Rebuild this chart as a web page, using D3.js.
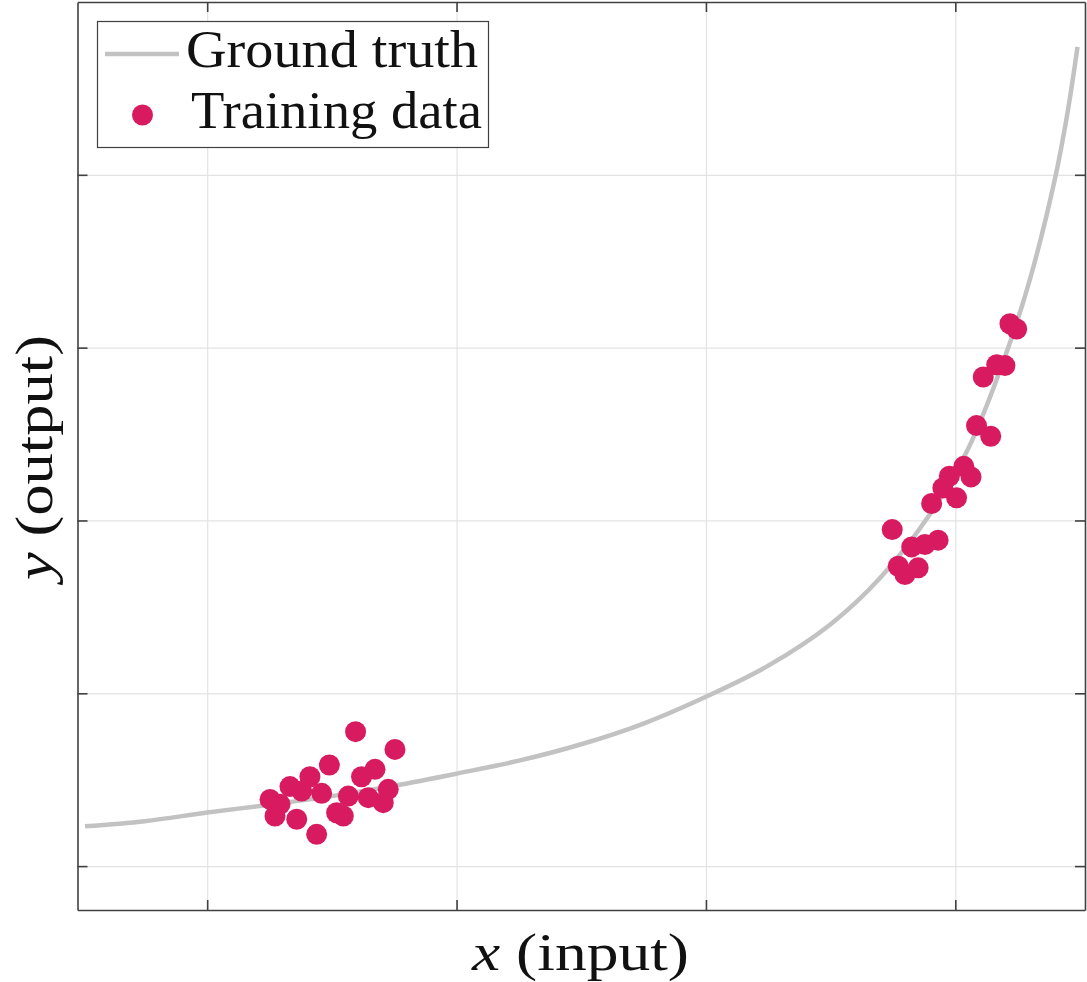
<!DOCTYPE html>
<html>
<head>
<meta charset="utf-8">
<script src="https://cdn.jsdelivr.net/npm/d3@7"></script>
<style>
  body { margin: 0; background: #fff; }
  svg { display: block; }
  .lbl { font-family: "Liberation Serif", "DejaVu Serif", serif; fill: #111; }
</style>
</head>
<body>
<div id="chart"></div>
<script>
// ground truth curve (x in input units, y in output units)
var truthX = [-0.49, -0.25, 0.0, 0.25, 0.5, 0.75, 1.0, 1.25, 1.5, 1.75, 2.0, 2.25, 2.5, 2.7, 2.9, 3.05, 3.2, 3.3, 3.4, 3.45, 3.49];
var truthY = [0.23, 0.26, 0.31, 0.355, 0.405, 0.465, 0.535, 0.61, 0.705, 0.825, 0.98, 1.16, 1.40, 1.67, 2.04, 2.41, 2.95, 3.40, 3.98, 4.36, 4.74];

// training points, left cluster then right cluster
var trainX = [0.595, 0.753, 0.490, 0.673, 0.619, 0.412, 0.332, 0.379, 0.459, 0.252,
              0.566, 0.726, 0.646, 0.706, 0.292, 0.272, 0.359, 0.519, 0.546, 0.439,
              3.219, 3.246, 3.166, 3.199, 3.112, 3.085, 3.142, 3.034, 3.063, 2.976,
              2.950, 3.005, 2.905, 2.747, 2.931, 2.878, 2.825, 2.771, 2.851, 2.798];
var trainY = [0.778, 0.675, 0.585, 0.560, 0.517, 0.517, 0.460, 0.434, 0.421, 0.386,
              0.405, 0.444, 0.396, 0.367, 0.358, 0.290, 0.271, 0.309, 0.290, 0.184,
              3.138, 3.108, 2.901, 2.896, 2.830, 2.549, 2.487, 2.313, 2.252, 2.256,
              2.188, 2.131, 2.098, 1.947, 1.886, 1.861, 1.847, 1.735, 1.726, 1.687];

var xTicks = [0, 1, 2, 3];
var yTicks = [0, 1, 2, 3, 4];
var legendLabels = ["Ground truth", "Training data"];

var svgWidth = 1087;
var svgHeight = 982;

// plot box
var box = {left: 77.5, right: 1085, top: 2, bottom: 910};

var truthColor = "#c2c2c2";
var dotColor = "#d81b60";

var svg = d3.select("#chart")
  .append("svg")
  .attr("width", svgWidth)
  .attr("height", svgHeight);

var x = d3.scaleLinear().domain([-0.52, 3.52]).range([box.left, box.right]);
var y = d3.scaleLinear().domain([-0.254, 5.0]).range([box.bottom, box.top]);

// grid lines
svg.append("g")
  .attr("transform", `translate(0, ${box.bottom})`)
  .call(d3.axisBottom(x).tickValues(xTicks).tickSize(-(box.bottom - box.top)).tickFormat(""))
  .call(g => g.select(".domain").remove())
  .selectAll("line").attr("stroke", "#e3e3e3").attr("stroke-width", 1.2);

svg.append("g")
  .attr("transform", `translate(${box.left}, 0)`)
  .call(d3.axisLeft(y).tickValues(yTicks).tickSize(-(box.right - box.left)).tickFormat(""))
  .call(g => g.select(".domain").remove())
  .selectAll("line").attr("stroke", "#e3e3e3").attr("stroke-width", 1.2);

// ground truth line
var truth = truthX.map((d, i) => ({x: d, y: truthY[i]}));
svg.append("path")
  .datum(truth)
  .attr("fill", "none")
  .attr("stroke", truthColor)
  .attr("stroke-width", 4.5)
  .attr("d", d3.line().x(d => x(d.x)).y(d => y(d.y)).curve(d3.curveCatmullRom));

// training data
var train = trainX.map((d, i) => ({x: d, y: trainY[i]}));
svg.append("g")
  .selectAll("circle")
  .data(train)
  .enter()
  .append("circle")
  .attr("cx", d => x(d.x))
  .attr("cy", d => y(d.y))
  .attr("r", 10.5)
  .attr("fill", dotColor);

// axes box with inward ticks, no labels
function styleAxis(g) {
  g.selectAll("path, line").attr("stroke", "#404040").attr("stroke-width", 1.6);
}
svg.append("g").attr("transform", `translate(0, ${box.bottom})`)
  .call(d3.axisBottom(x).tickValues(xTicks).tickSizeInner(-10).tickSizeOuter(0).tickFormat(""))
  .call(styleAxis);
svg.append("g").attr("transform", `translate(0, ${box.top})`)
  .call(d3.axisTop(x).tickValues(xTicks).tickSizeInner(-10).tickSizeOuter(0).tickFormat(""))
  .call(styleAxis);
svg.append("g").attr("transform", `translate(${box.left}, 0)`)
  .call(d3.axisLeft(y).tickValues(yTicks).tickSizeInner(-10).tickSizeOuter(0).tickFormat(""))
  .call(styleAxis);
svg.append("g").attr("transform", `translate(${box.right}, 0)`)
  .call(d3.axisRight(y).tickValues(yTicks).tickSizeInner(-10).tickSizeOuter(0).tickFormat(""))
  .call(styleAxis);

// legend
var legend = svg.append("g");
legend.append("rect")
  .attr("x", 97.5).attr("y", 21.5)
  .attr("width", 391).attr("height", 126)
  .attr("fill", "#fff")
  .attr("stroke", "#404040")
  .attr("stroke-width", 1.2);
legend.append("line")
  .attr("x1", 105).attr("x2", 179)
  .attr("y1", 54).attr("y2", 54)
  .attr("stroke", truthColor)
  .attr("stroke-width", 4.5);
legend.append("circle")
  .attr("cx", 142.5).attr("cy", 115)
  .attr("r", 10.5)
  .attr("fill", dotColor);
legend.append("text")
  .attr("class", "lbl")
  .attr("x", 186).attr("y", 67)
  .attr("font-size", 52)
  .attr("textLength", 292)
  .attr("lengthAdjust", "spacingAndGlyphs")
  .text(legendLabels[0]);
legend.append("text")
  .attr("class", "lbl")
  .attr("x", 191).attr("y", 128)
  .attr("font-size", 52)
  .attr("textLength", 291)
  .attr("lengthAdjust", "spacingAndGlyphs")
  .text(legendLabels[1]);

// axis labels
var xl = svg.append("text")
  .attr("class", "lbl")
  .attr("x", 472)
  .attr("y", 970)
  .attr("font-size", 52)
  .attr("textLength", 217)
  .attr("lengthAdjust", "spacingAndGlyphs");
xl.append("tspan").attr("font-style", "italic").text("x");
xl.append("tspan").text(" (input)");

var yl = svg.append("text")
  .attr("class", "lbl")
  .attr("transform", `translate(52, 580) rotate(-90)`)
  .attr("font-size", 52)
  .attr("textLength", 245)
  .attr("lengthAdjust", "spacingAndGlyphs");
yl.append("tspan").attr("font-style", "italic").text("y");
yl.append("tspan").text(" (output)");
</script>
</body>
</html>
